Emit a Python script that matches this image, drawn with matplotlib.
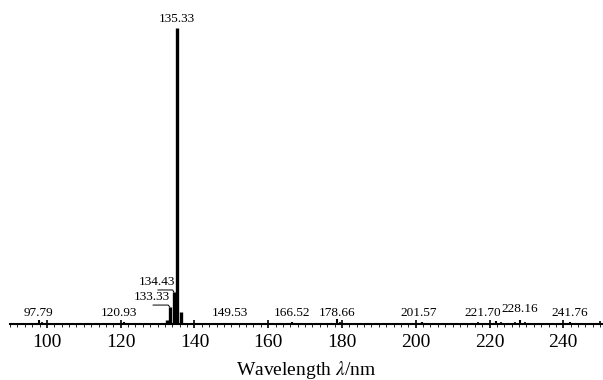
import matplotlib
matplotlib.use("Agg")
import matplotlib.pyplot as plt
import numpy as np

plt.rcParams['font.family'] = ['Liberation Serif', 'DejaVu Serif']
plt.rcParams['mathtext.fontset'] = 'stix'

# main peaks (wavelength nm, relative intensity)
peak_wl = [132.5, 133.33, 134.43, 135.33, 136.3]
peak_int = [0.014, 0.057, 0.108, 1.0, 0.040]

# small labelled peaks
small_wl = [97.79, 120.93, 149.53, 166.52, 178.66, 201.57, 221.70, 228.16, 241.76]
small_int = [0.012, 0.008, 0.005, 0.006, 0.016, 0.008, 0.010, 0.014, 0.006]

# baseline noise peaks
noise_wl = [95.0, 98.8, 110.5, 126.0, 137.2, 146.0, 152.5, 160.5, 171.0, 179.6, 184.5,
            193.0, 196.5, 205.0, 210.5, 213.0, 215.0, 217.0, 219.0, 223.0, 225.5,
            227.0, 229.5, 232.0, 236.0, 239.0, 245.0, 250.0]
noise_int = [0.004, 0.006, 0.003, 0.003, 0.004, 0.003, 0.003, 0.004, 0.003, 0.006, 0.004,
             0.003, 0.004, 0.003, 0.004, 0.005, 0.005, 0.006, 0.005, 0.006, 0.005,
             0.007, 0.006, 0.005, 0.005, 0.004, 0.004, 0.010]

# label offsets for the small peaks (x in nm, y in relative intensity)
small_dx = [0, -1.3, 0, 0, 0, -0.8, -3.6, 0, 0]
small_dy = [0, 0, 0, 0, 0, 0, 0, 0.012, 0]

fig = plt.figure(figsize=(6.03, 3.8), dpi=100)
ax = fig.add_axes([10/603, 56/380, 592/603, 314/380])

ax.vlines(noise_wl, 0, noise_int, color='black', lw=1.2)
ax.vlines(small_wl, 0, small_int, color='black', lw=1.5)
ax.vlines(peak_wl, 0, peak_int, color='black', lw=2.4)

for wl, dx, dy in zip(small_wl, small_dx, small_dy):
    ax.text(wl + dx, 0.037 + dy, f"{wl:.2f}", ha='center', va='center', fontsize=9.5)

# labels of the main group
ax.text(135.33, 1.01, "135.33", ha='center', va='bottom', fontsize=9.5)
ax.text(129.8, 0.142, "134.43", ha='center', va='center', fontsize=9.5)
ax.plot([130.1, 134.1, 134.43], [0.115, 0.115, 0.108], color='black', lw=0.7)
ax.text(128.5, 0.091, "133.33", ha='center', va='center', fontsize=9.5)
ax.plot([128.8, 132.9, 133.33], [0.064, 0.064, 0.057], color='black', lw=0.7)

ax.set_xlim(90, 250.5)
ax.set_ylim(0, 1.061)
ax.set_xticks(np.arange(100, 241, 20))
ax.set_xticks(np.arange(90, 251, 2), minor=True)
ax.tick_params(axis='x', which='major', direction='inout', length=6, width=1.2, labelsize=14, pad=4)
ax.tick_params(axis='x', which='minor', direction='out', length=1.8, width=0.6)
ax.set_yticks([])
for s in ['top', 'right', 'left']:
    ax.spines[s].set_visible(False)
ax.spines['bottom'].set_linewidth(1.5)

ax.set_xlabel("Wavelength $\\lambda$/nm", fontsize=14)
ax.xaxis.set_label_coords(0.5, -0.11)

fig.savefig("out.png", dpi=100)
